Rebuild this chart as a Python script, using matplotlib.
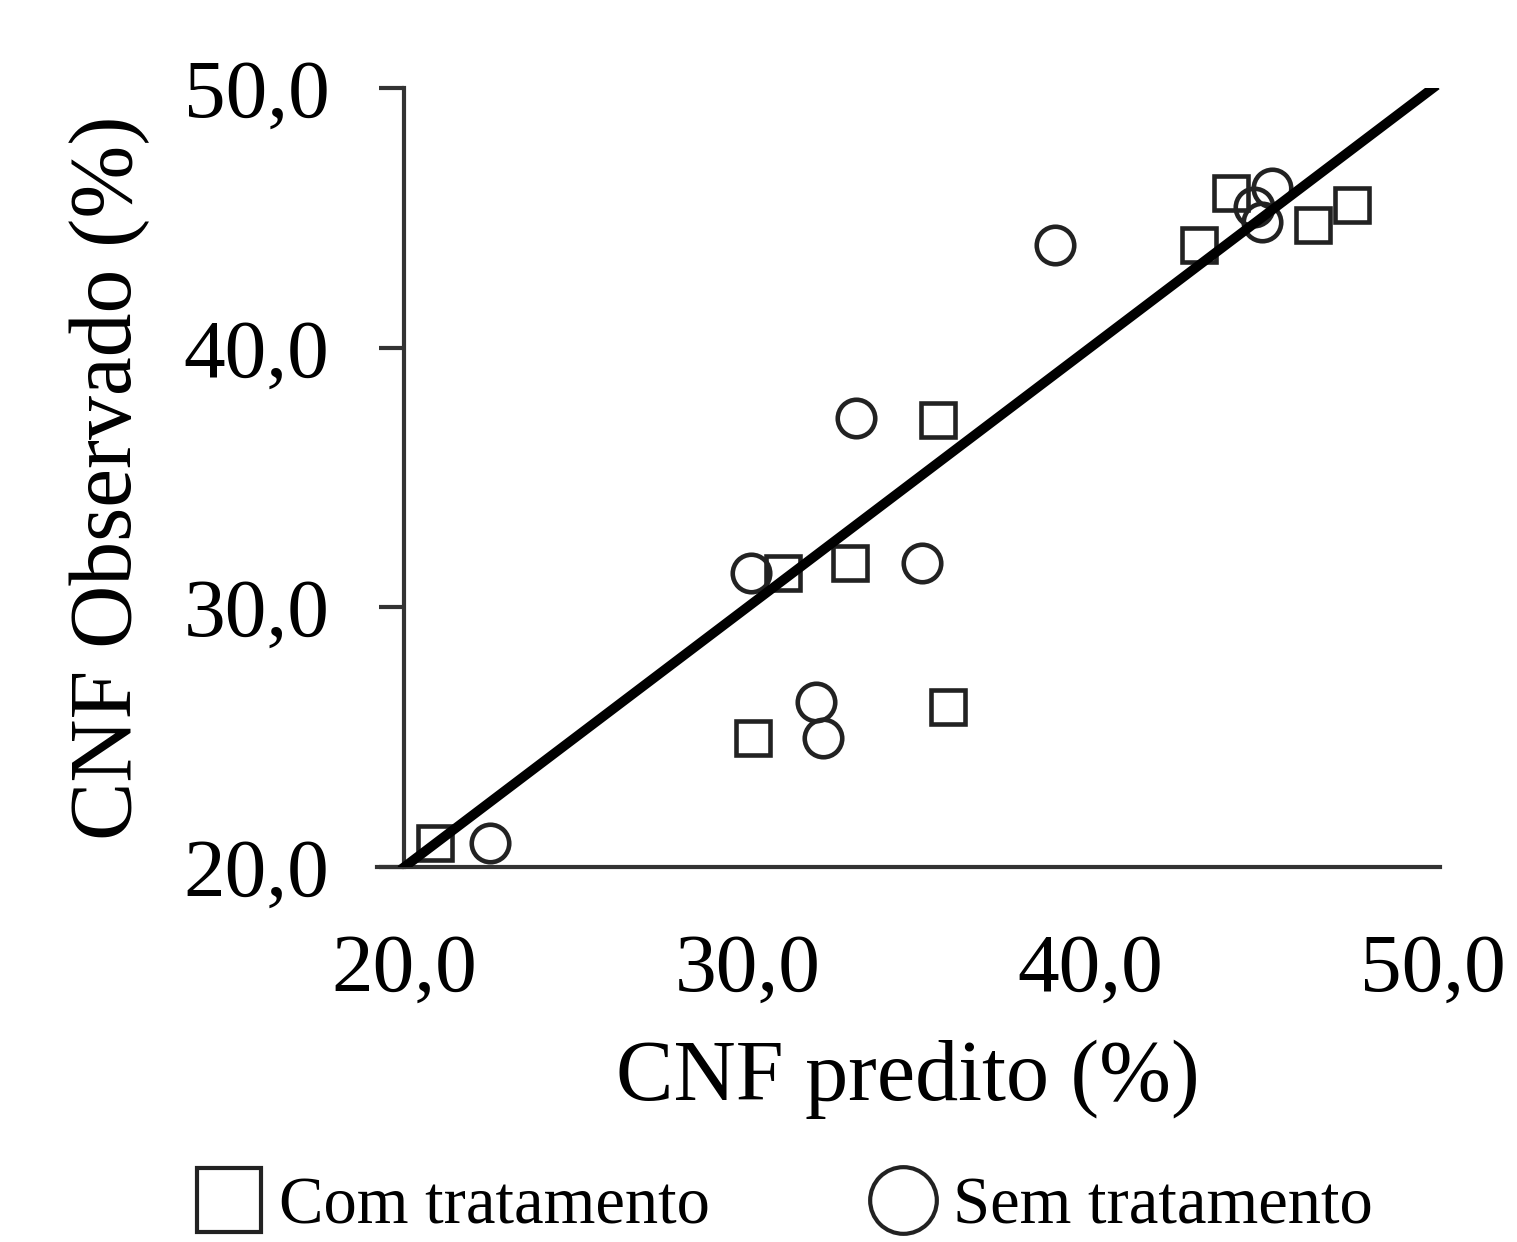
import matplotlib.pyplot as plt
from matplotlib.lines import Line2D

plt.rcParams['font.family'] = ['Liberation Serif', 'DejaVu Serif']

# Com tratamento (squares)
com_x = [20.9, 30.17, 31.04, 33.01, 35.57, 35.86, 43.18, 44.11, 46.52, 47.65]
com_y = [20.92, 24.97, 31.32, 31.71, 37.21, 26.16, 43.95, 45.95, 44.72, 45.49]

# Sem tratamento (circles)
sem_x = [22.5, 30.11, 32.0, 32.2, 33.16, 35.1, 38.97, 44.78, 45.01, 45.3]
sem_y = [20.92, 31.32, 26.35, 24.97, 37.29, 31.71, 43.95, 45.41, 44.84, 46.15]

ticks = [20, 30, 40, 50]
tick_labels = ['20,0', '30,0', '40,0', '50,0']

fig = plt.figure(figsize=(15.17, 12.42), dpi=100)
ax = fig.add_axes([0.2485, 0.302, 0.7005, 0.627])

ax.plot([20, 50], [20, 50], color='black', lw=7, zorder=3)
ax.plot(com_x, com_y, 's', ms=25, mfc='none', mec='#222222', mew=3.3, ls='none')
ax.plot(sem_x, sem_y, 'o', ms=27, mfc='none', mec='#222222', mew=3.3, ls='none')

ax.set_xlim(19.2, 50.2)
ax.set_ylim(20, 50)
for s in ['top', 'right']:
    ax.spines[s].set_visible(False)
ax.spines['left'].set_position(('data', 20))
ax.spines['left'].set_linewidth(3)
ax.spines['bottom'].set_linewidth(3)
ax.spines['left'].set_color('#333333')
ax.spines['bottom'].set_color('#333333')

ax.set_xticks(ticks)
ax.set_xticklabels(tick_labels)
ax.set_yticks(ticks)
ax.set_yticklabels(tick_labels)
ax.tick_params(axis='x', length=0, pad=48, labelsize=60)
ax.tick_params(axis='y', length=18, width=3, color='#333333', pad=36, labelsize=60)

ax.set_xlabel('CNF predito (%)', fontsize=62, labelpad=22)
ax.set_ylabel('CNF Observado (%)', fontsize=63, labelpad=24)

handles = [
    Line2D([], [], marker='s', ms=46, mfc='none', mec='#222222', mew=3, ls='none'),
    Line2D([], [], marker='o', ms=48, mfc='none', mec='#222222', mew=3, ls='none'),
]
fig.legend(handles, ['Com tratamento', 'Sem tratamento'], loc='center',
           bbox_to_anchor=(0.517, 0.028), ncol=2, frameon=False, fontsize=48,
           handletextpad=0.25, columnspacing=2.4, handlelength=1.0)

fig.savefig('out.png', dpi=100)
